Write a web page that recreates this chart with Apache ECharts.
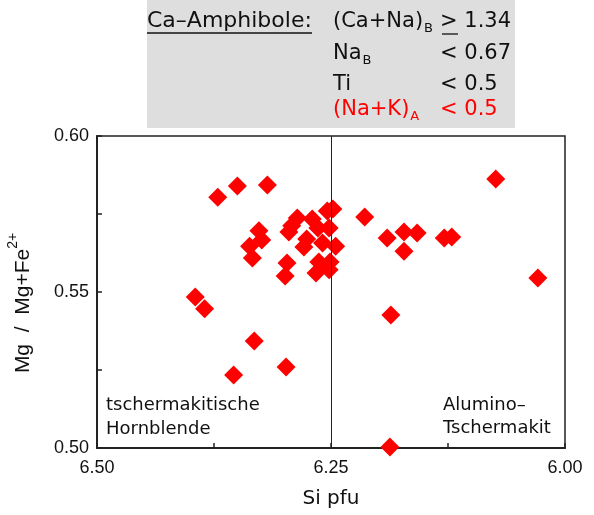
<!DOCTYPE html>
<html>
<head>
<meta charset="utf-8">
<script src="https://cdn.jsdelivr.net/npm/echarts@6/dist/echarts.min.js"></script>
<style>
html, body { margin: 0; padding: 0; background: #fff; }
#chart { width: 594px; height: 515px; }
</style>
</head>
<body>
<div id="chart"></div>
<script>
// Amphibole analyses: Si per formula unit vs. Mg/(Mg+Fe2+)
const siPfu = [
  6.371, 6.350, 6.318, 6.395, 6.385, 6.332, 6.354, 6.298,
  6.074, 6.029, 6.186, 6.187, 6.214, 6.190, 6.172, 6.158,
  6.172, 6.129, 6.121,
  6.327, 6.324, 6.337, 6.334, 6.297, 6.299, 6.286, 6.295,
  6.292, 6.270, 6.276, 6.279, 6.264, 6.254, 6.248, 6.252,
  6.259, 6.245, 6.263, 6.251, 6.266, 6.252
];
const mgNumber = [
  0.5804, 0.5840, 0.5843, 0.5484, 0.5446, 0.5343, 0.5234, 0.5260,
  0.5862, 0.5545, 0.5426, 0.5003, 0.5740, 0.5673, 0.5692, 0.5689,
  0.5631, 0.5673, 0.5676,
  0.5696, 0.5667, 0.5647, 0.5609, 0.5593, 0.5551, 0.5737, 0.5692,
  0.5712, 0.5734, 0.5670, 0.5644, 0.5705, 0.5760, 0.5766, 0.5705,
  0.5657, 0.5647, 0.5596, 0.5596, 0.5561, 0.5571
];
const xTicks = [6.50, 6.25, 6.00];
const yTicks = [0.50, 0.55, 0.60];
const siBoundary = 6.25;

const points = siPfu.map((s, i) => [s, mgNumber[i]]);
const isMajor = (v, list) => list.some(t => Math.abs(t - v) < 1e-6);

const chart = echarts.init(document.getElementById('chart'));
const boxFont = '"DejaVu Sans", sans-serif';
const sansFont = '"Liberation Sans", Arial, sans-serif';
const BOX_SIZE = 21;

// one entry of the criteria table; {s|..} marks a subscript
const boxText = (x, y, text, color) => ({
  type: 'text', left: x, top: y, z: 10,
  style: {
    text: text, fill: color, fontSize: BOX_SIZE, fontFamily: boxFont,
    rich: {
      n: { fontSize: BOX_SIZE, fontFamily: boxFont, color: color, lineHeight: 26, verticalAlign: 'bottom' },
      s: { fontSize: 13, fontFamily: boxFont, color: color, lineHeight: 13, verticalAlign: 'bottom', padding: [0, 0, -3, 1] }
    }
  }
});

chart.setOption({
  animation: false,
  grid: {
    left: 97, right: 29, top: 136, bottom: 67, outerBoundsMode: 'none',
    show: true, borderColor: '#222', borderWidth: 1.5
  },
  xAxis: {
    type: 'value', min: 6.0, max: 6.5, interval: 0.125, inverse: true,
    name: 'Si pfu', nameLocation: 'middle', nameGap: 41,
    nameTextStyle: { fontSize: 20, fontFamily: boxFont, color: '#111' },
    axisLine: { lineStyle: { color: '#222', width: 2 } },
    axisTick: { inside: true, length: 5, lineStyle: { color: '#222', width: 1.5 } },
    axisLabel: {
      fontSize: 18, fontFamily: sansFont, color: '#111', margin: 11,
      formatter: v => isMajor(v, xTicks) ? v.toFixed(2) : ''
    },
    splitLine: { show: false }
  },
  yAxis: {
    type: 'value', min: 0.5, max: 0.6, interval: 0.025,
    name: '{n|Mg  /  Mg+Fe}{s|2+}', nameLocation: 'middle', nameGap: 63, nameRotate: 90,
    nameTextStyle: {
      padding: [0, 22, 0, 0],
      rich: {
        n: { fontSize: 21, fontFamily: sansFont, color: '#111', lineHeight: 28, verticalAlign: 'bottom' },
        s: { fontSize: 14, fontFamily: sansFont, color: '#111', lineHeight: 14, verticalAlign: 'top' }
      }
    },
    axisLine: { lineStyle: { color: '#222', width: 2 } },
    axisTick: { inside: true, length: 5, lineStyle: { color: '#222', width: 1.5 } },
    axisLabel: {
      fontSize: 18, fontFamily: sansFont, color: '#111', margin: 8,
      formatter: v => isMajor(v, yTicks) ? v.toFixed(2) : ''
    },
    splitLine: { show: false }
  },
  series: [{
    type: 'scatter',
    data: points,
    symbol: 'diamond',
    symbolSize: 19,
    itemStyle: { color: '#ff0000', opacity: 1 },
    markLine: {
      silent: true, symbol: 'none', label: { show: false },
      lineStyle: { color: '#222', width: 1, type: 'solid' },
      data: [{ xAxis: siBoundary }]
    }
  }],
  graphic: [
    { type: 'rect', shape: { x: 147, y: 0, width: 368, height: 128 }, style: { fill: '#dedede' }, z: 1 },
    { type: 'text', left: 147, top: 10, z: 10, style: { text: 'Ca\u2013Amphibole:', fill: '#111', fontSize: 22, fontFamily: boxFont } },
    { type: 'line', shape: { x1: 147, y1: 33, x2: 312, y2: 33 }, style: { stroke: '#111', lineWidth: 1.3 }, z: 10 },
    boxText(333, 11, '{n|(Ca+Na)}{s|B}', '#111'),
    boxText(440, 11, '{n|> 1.34}', '#111'),
    { type: 'line', shape: { x1: 442, y1: 34, x2: 458, y2: 34 }, style: { stroke: '#111', lineWidth: 1.3 }, z: 10 },
    boxText(333, 43, '{n|Na}{s|B}', '#111'),
    boxText(440, 43, '{n|< 0.67}', '#111'),
    boxText(333, 74, '{n|Ti}', '#111'),
    boxText(440, 74, '{n|< 0.5}', '#111'),
    boxText(333, 99, '{n|(Na+K)}{s|A}', '#ff0000'),
    boxText(440, 99, '{n|< 0.5}', '#ff0000'),
    { type: 'text', left: 106, top: 393, z: 10, style: { text: 'tschermakitische\nHornblende', fill: '#111', fontSize: 18, fontFamily: boxFont, lineHeight: 24 } },
    { type: 'text', left: 443, top: 394, z: 10, style: { text: 'Alumino\u2013\nTschermakit', fill: '#111', fontSize: 18, fontFamily: boxFont, lineHeight: 23 } }
  ]
});
</script>
</body>
</html>
